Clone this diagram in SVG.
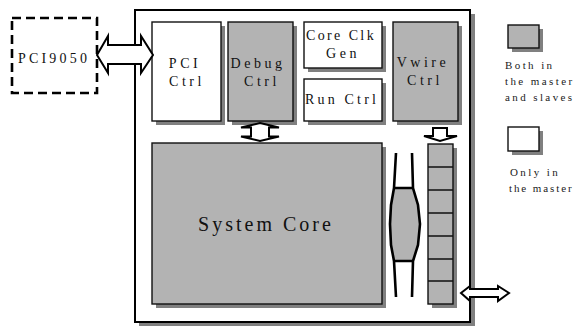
<svg xmlns="http://www.w3.org/2000/svg" width="577" height="326" viewBox="0 0 577 326">
  <style>
    .shadow { fill: #808080; }
    .box { stroke: #111; stroke-width: 1.4; }
    .white { fill: #ffffff; }
    .gray { fill: #b3b3b3; }
    .lbl { font-family: "Liberation Serif", "Times New Roman", serif; font-size: 14px; fill: #111; text-anchor: middle; letter-spacing: 3.5px; }
    .leg { font-family: "Liberation Serif", "Times New Roman", serif; font-size: 11px; fill: #222; letter-spacing: 2.4px; }
    .arrow { fill: #ffffff; stroke: #000; stroke-width: 2; stroke-linejoin: miter; }
    .bus { fill: none; stroke: #000; stroke-width: 2.6; }
  </style>

  <rect width="577" height="326" fill="#ffffff"/>

  <!-- external PCI bridge chip -->
  <g id="pci9050">
    <rect x="12" y="18" width="85" height="75" fill="#ffffff" stroke="#000" stroke-width="2.6" stroke-dasharray="9,5"/>
    <text class="lbl" x="54" y="63" style="letter-spacing:3.2px">PCI9050</text>
  </g>

  <!-- FPGA outline -->
  <g id="fpga">
    <rect class="shadow" x="139" y="14" width="336" height="312"/>
    <rect x="135" y="10" width="335" height="312" fill="#ffffff" stroke="#000" stroke-width="2"/>
  </g>

  <g id="pci-ctrl">
    <rect class="shadow" x="156" y="26" width="69" height="99"/>
    <rect class="box white" x="152" y="22" width="69" height="99"/>
    <text class="lbl" x="185" y="68">PCI</text>
    <text class="lbl" x="187" y="86">Ctrl</text>
  </g>

  <g id="debug-ctrl">
    <rect class="shadow" x="232" y="26" width="65" height="99"/>
    <rect class="box gray" x="228" y="22" width="65" height="99"/>
    <text class="lbl" x="258" y="68">Debug</text>
    <text class="lbl" x="262" y="86">Ctrl</text>
  </g>

  <g id="core-clk-gen">
    <rect class="shadow" x="308" y="26" width="78" height="46"/>
    <rect class="box white" x="304" y="22" width="78" height="46"/>
    <text class="lbl" x="341" y="40" style="letter-spacing:2.4px">Core Clk</text>
    <text class="lbl" x="343" y="58">Gen</text>
  </g>

  <g id="run-ctrl">
    <rect class="shadow" x="308" y="83" width="78" height="42"/>
    <rect class="box white" x="304" y="79" width="78" height="42"/>
    <text class="lbl" x="342" y="104" style="letter-spacing:3.2px">Run Ctrl</text>
  </g>

  <g id="vwire-ctrl">
    <rect class="shadow" x="397" y="26" width="65" height="99"/>
    <rect class="box gray" x="393" y="22" width="65" height="99"/>
    <text class="lbl" x="423" y="67">Vwire</text>
    <text class="lbl" x="425" y="85">Ctrl</text>
  </g>

  <g id="system-core">
    <rect class="shadow" x="156" y="147" width="230" height="161"/>
    <rect class="box gray" x="152" y="143" width="230" height="161"/>
    <text class="lbl" x="266" y="231" style="font-size:20px;letter-spacing:3px">System Core</text>
  </g>

  <g id="register-file">
    <rect class="shadow" x="432" y="148" width="25" height="160"/>
    <rect class="box gray" x="428" y="144" width="25" height="160"/>
    <path d="M428,167H453M428,190H453M428,213H453M428,236H453M428,259H453M428,281H453" stroke="#111" stroke-width="1.4"/>
  </g>

  <!-- legend -->
  <g id="legend-both">
    <rect class="shadow" x="512" y="29" width="31" height="23"/>
    <rect class="box gray" x="508" y="25" width="31" height="23"/>
    <text class="leg" x="505" y="69">Both in</text>
    <text class="leg" x="505" y="85">the master</text>
    <text class="leg" x="505" y="101">and slaves</text>
  </g>
  <g id="legend-master">
    <rect class="shadow" x="512" y="131" width="31" height="24"/>
    <rect class="box white" x="508" y="127" width="31" height="24"/>
    <text class="leg" x="510" y="176">Only in</text>
    <text class="leg" x="509" y="192" style="letter-spacing:1.9px">the master</text>
  </g>

  <!-- connectors -->
  <g id="connectors">
    <polygon class="arrow" points="97,55 108,36 108,45 141,45 141,36 153,55 141,73 141,64 108,64 108,73"/>
    <polygon class="arrow" points="260,123 279,127.5 269,127.5 269,136.5 279,136.5 260,141 241,136.5 251,136.5 251,127.5 241,127.5"/>
    <polygon class="arrow" points="433,128 447,128 447,136 457,136 440,141 424,136 433,136"/>
    <polygon class="arrow" points="461,293 470,286 470,289 498,289 498,286 509,293 498,301 498,297 470,297 470,301"/>
    <!-- internal bus -->
    <polygon points="394,188 413,188 418,205 420,224 418,245 413,261 394,261 391,245 390,224 391,205" fill="#b3b3b3"/>
    <path class="bus" d="M396,153 L394,188 L391,205 L390,224 L391,245 L394,261 L396,297"/>
    <path class="bus" d="M412,153 L413,188 L418,205 L420,224 L418,245 L413,261 L412,297"/>
    <path class="bus" d="M394,188H413M394,261H413"/>
  </g>
</svg>
